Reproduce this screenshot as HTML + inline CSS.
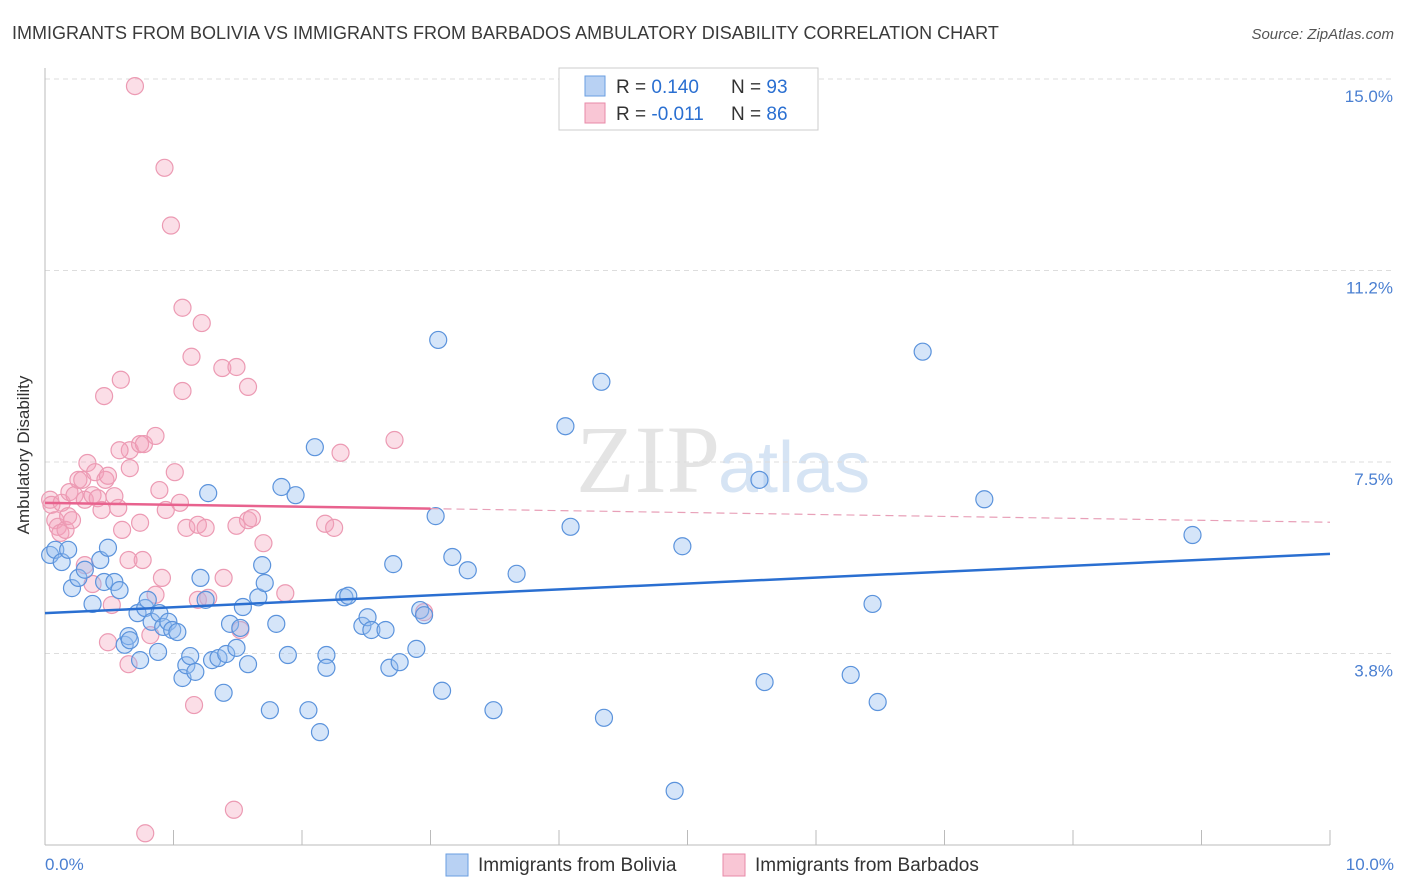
<!DOCTYPE html>
<html><head><meta charset="utf-8"><style>
body{margin:0;background:#fff;font-family:"Liberation Sans",sans-serif}
svg{display:block}
</style></head><body>
<svg id="c" width="1406" height="892" xmlns="http://www.w3.org/2000/svg">
<text x="12" y="39" font-size="18" fill="#3a3a3a">IMMIGRANTS FROM BOLIVIA VS IMMIGRANTS FROM BARBADOS AMBULATORY DISABILITY CORRELATION CHART</text>
<text x="1394" y="39" font-size="15" fill="#555" font-style="italic" text-anchor="end">Source: ZipAtlas.com</text>
<text x="720" y="492" font-size="96" fill="#e4e4e4" text-anchor="end" font-family="Liberation Serif,serif">ZIP</text>
<text x="718" y="492" font-size="72" fill="#d6e4f4">atlas</text>
<g id="grid"></g>
<line x1="45" y1="68" x2="45" y2="845" stroke="#bbb"/>
<line x1="45" y1="845" x2="1330" y2="845" stroke="#bbb"/>
<text x="29" y="455" font-size="17" fill="#333" text-anchor="middle" transform="rotate(-90 29 455)">Ambulatory Disability</text>
<text x="45" y="870" font-size="17" fill="#4a7fd1">0.0%</text>
<text x="1394" y="870" font-size="17" fill="#4a7fd1" text-anchor="end">10.0%</text>
<g id="pts"></g>
<g id="trend"></g>
<g>
<rect x="559" y="68" width="259" height="62" fill="#fff" stroke="#ccc"/>
<rect x="585" y="76" width="20" height="20" fill="#b8d1f3" stroke="#6a9ee0"/>
<rect x="585" y="103" width="20" height="20" fill="#f9c6d5" stroke="#e88aa8"/>
<text x="616" y="93" font-size="19" fill="#333">R = <tspan fill="#2a6fd1">0.140</tspan><tspan x="731">N = </tspan><tspan fill="#2a6fd1">93</tspan></text>
<text x="616" y="120" font-size="19" fill="#333">R = <tspan fill="#2a6fd1">-0.011</tspan><tspan x="731">N = </tspan><tspan fill="#2a6fd1">86</tspan></text>
</g>
<g>
<rect x="446" y="854" width="22" height="22" fill="#b8d1f3" stroke="#6a9ee0"/>
<text x="478" y="871" font-size="19" fill="#333">Immigrants from Bolivia</text>
<rect x="723" y="854" width="22" height="22" fill="#f9c6d5" stroke="#e88aa8"/>
<text x="755" y="871" font-size="19" fill="#333">Immigrants from Barbados</text>
</g>
</svg>
<script>
const yTicks=[3.75,7.5,11.25,15];
const yTickLabels=["3.8%","7.5%","11.2%","15.0%"];
const xTicks=[0,1,2,3,4,5,6,7,8,9,10];
const boliviaX=[0.04,0.08,0.13,0.18,0.21,0.26,0.31,0.37,0.43,0.46,0.49,0.54,0.58,0.62,0.65,0.66,0.72,0.74,0.78,0.80,0.83,0.88,0.89,0.92,0.96,0.99,1.03,1.07,1.10,1.13,1.17,1.21,1.25,1.27,1.30,1.35,1.39,1.41,1.44,1.49,1.52,1.54,1.58,1.66,1.69,1.71,1.75,1.80,1.84,1.89,1.95,2.05,2.10,2.14,2.19,2.19,2.33,2.36,2.47,2.51,2.54,2.65,2.68,2.71,2.76,2.89,2.92,2.95,3.04,3.06,3.09,3.17,3.29,3.49,3.67,4.05,4.09,4.33,4.35,4.90,4.96,5.56,5.60,6.27,6.44,6.48,6.83,7.31,8.93];
const boliviaY=[5.68,5.78,5.54,5.78,5.03,5.23,5.39,4.72,5.58,5.15,5.82,5.15,4.99,3.92,4.09,4.01,4.54,3.62,4.64,4.80,4.37,3.78,4.54,4.27,4.37,4.21,4.17,3.27,3.52,3.70,3.39,5.23,4.80,6.89,3.62,3.66,2.98,3.74,4.33,3.86,4.25,4.66,3.54,4.85,5.48,5.13,2.64,4.33,7.01,3.72,6.85,2.64,7.79,2.21,3.72,3.47,4.85,4.88,4.29,4.46,4.21,4.21,3.47,5.50,3.58,3.84,4.60,4.50,6.44,9.89,3.02,5.64,5.38,2.64,5.31,8.20,6.23,9.07,2.49,1.06,5.85,7.15,3.19,3.33,4.72,2.80,9.66,6.77,6.07];
const barbadosX=[0.70,0.93,0.98,1.07,1.22,1.14,1.38,1.49,1.58,1.07,0.46,0.59,0.66,0.74,0.77,0.86,2.30,2.72,0.04,0.05,0.08,0.10,0.12,0.13,0.16,0.18,0.19,0.21,0.23,0.26,0.29,0.31,0.33,0.37,0.39,0.41,0.44,0.47,0.49,0.54,0.57,0.58,0.60,0.65,0.66,0.74,0.76,0.89,0.94,1.01,1.05,1.10,1.19,1.25,1.19,1.27,1.39,1.49,1.52,1.58,1.61,1.70,1.87,2.18,2.25,0.91,0.86,0.82,0.49,0.65,1.16,1.47,0.78,2.95,0.52,0.37,0.31];
const barbadosY=[14.86,13.26,12.13,10.52,10.22,9.56,9.34,9.36,8.97,8.89,8.79,9.11,7.73,7.85,7.85,8.01,7.68,7.93,6.76,6.66,6.36,6.23,6.11,6.70,6.17,6.44,6.91,6.36,6.85,7.15,7.15,6.76,7.48,6.85,7.30,6.79,6.56,7.15,7.23,6.83,6.60,7.73,6.17,5.58,7.38,6.31,5.58,6.95,6.56,7.30,6.70,6.21,6.27,6.21,4.80,4.84,5.23,6.25,4.21,6.36,6.40,5.91,4.93,6.29,6.21,5.23,4.90,4.11,3.97,3.54,2.74,0.69,0.23,4.56,4.70,5.11,5.48];
const boliviaTrend=[4.54,5.70];
const barbadosTrend=[6.70,6.32];
const X=v=>45+v*128.5, Y=v=>845-v*51.07;
const NS="http://www.w3.org/2000/svg";
function mk(t,a,p){const e=document.createElementNS(NS,t);for(const k in a)e.setAttribute(k,a[k]);p.appendChild(e);return e;}
const grid=document.getElementById('grid');
yTicks.forEach((t,i)=>{
 const l=mk('line',{x1:45,x2:1394,y1:Y(t),y2:Y(t),stroke:'#ddd','stroke-dasharray':'5,4'},grid);
 
 
 const tx=mk('text',{x:1393,y:Y(t)+23,'font-size':17,fill:'#4a7fd1','text-anchor':'end'},grid);
 tx.textContent=yTickLabels[i];
 
 
});
xTicks.forEach(t=>{
 const l=mk('line',{x1:X(t),x2:X(t),y1:830,y2:845,stroke:'#bbb'},grid);
 
 
});
const pts=document.getElementById('pts');
barbadosX.forEach((x,i)=>{
 const c=mk('circle',{cx:X(x),cy:Y(barbadosY[i]),r:8.5,fill:'rgba(244,160,186,0.35)',stroke:'#ec9ab3','stroke-width':1.2},pts);
 
 
});
boliviaX.forEach((x,i)=>{
 const c=mk('circle',{cx:X(x),cy:Y(boliviaY[i]),r:8.5,fill:'rgba(150,190,240,0.4)',stroke:'#5b93dc','stroke-width':1.2},pts);
 
 
});
const tr=document.getElementById('trend');
let l=mk('line',{x1:X(0),y1:Y(boliviaTrend[0]),x2:X(10),y2:Y(boliviaTrend[1]),stroke:'#2a6fd1','stroke-width':2.5},tr);


const pAt=x=>barbadosTrend[0]+(barbadosTrend[1]-barbadosTrend[0])*x/10;
l=mk('line',{x1:X(0),y1:Y(pAt(0)),x2:X(3),y2:Y(pAt(3)),stroke:'#e8628e','stroke-width':2.5},tr);


l=mk('line',{x1:X(3),y1:Y(pAt(3)),x2:X(10),y2:Y(pAt(10)),stroke:'#e8a0b8','stroke-width':1.2,'stroke-dasharray':'8,5'},tr);


</script>
</body></html>
